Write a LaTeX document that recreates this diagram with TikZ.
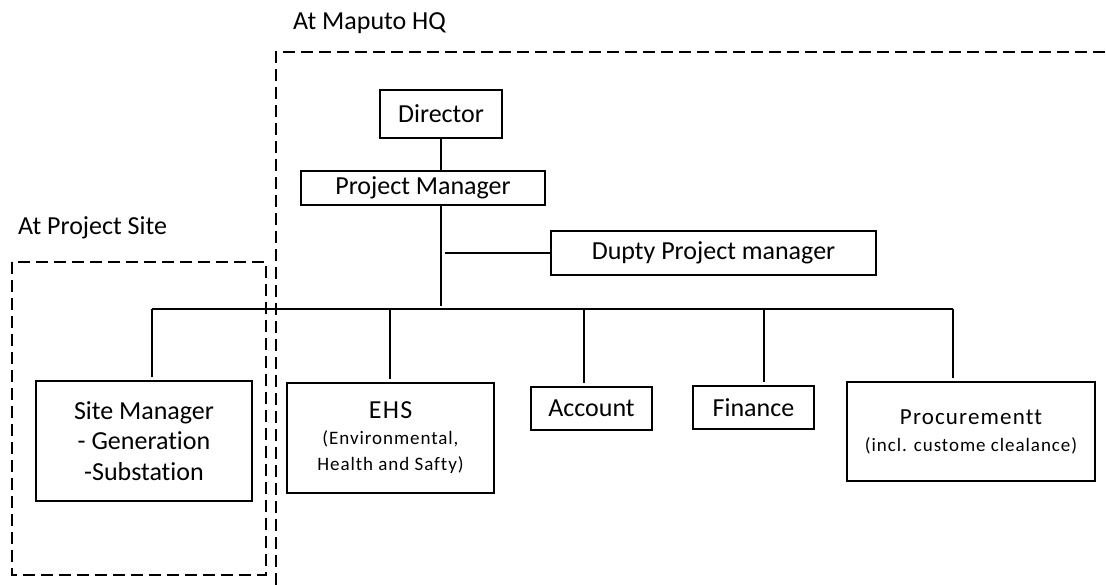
\documentclass[tikz,border=0pt]{standalone}
\usepackage{fontspec}
\setmainfont{Carlito}[Ligatures=NoCommon]
\newfontfamily\spaced[LetterSpace=5,Ligatures=NoCommon]{Carlito}
\newcommand{\smalltxt}{\spaced\fontsize{19}{26}\selectfont}
\begin{document}
\begin{tikzpicture}[x=1pt,y=-1pt,
  box/.style={draw, line width=1.5pt, inner sep=0pt, align=center,
    font=\fontsize{26}{30.5}\selectfont},
  conn/.style={line width=1.5pt},
  zone/.style={line width=1.5pt, dash pattern=on 12pt off 6pt},
  lbl/.style={anchor=base west, inner sep=0pt, font=\fontsize{26}{30}\selectfont}]
\useasboundingbox (0,0) rectangle (1106,585);

% zones
\draw[zone] (276,585) -- (276,52) -- (1106,52);
\draw[zone] (12,262) rectangle (266,575);
\node[lbl] (hqlbl) at (293,30) {At Maputo HQ};
\node[lbl] (sitelbl) at (18,235) {At Project Site};

% boxes
\node[box, minimum width=122pt, minimum height=48pt] (dir) at (441,114) {Director};
\node[box, minimum width=244pt, minimum height=34pt] (pm) at (423,188) {Project Manager};
\node[box, minimum width=325pt, minimum height=44pt] (dup) at (713.5,253) {Dupty Project manager};
\node[box, minimum width=216pt, minimum height=120pt] (sm) at (144,441) {Site Manager\\- Generation\\-Substation};
\node[box, minimum width=207pt, minimum height=110pt, font=\smalltxt] (ehs) at (390.5,438)
  {{\fontsize{26}{26}\selectfont EHS}\\(Environmental,\\Health and Safty)};
\node[box, minimum width=121pt, minimum height=43pt] (acc) at (591.5,408.5) {Account};
\node[box, minimum width=121pt, minimum height=43pt] (fin) at (753.5,407.5) {Finance};
\node[box, minimum width=248pt, minimum height=99pt, font=\spaced\fontsize{19}{27}\selectfont] (pro) at (971,431.5)
  {{\fontsize{23}{27}\selectfont Procurementt}\\(incl. custome clealance)};

% connector points
\coordinate (t) at (441,309);
\coordinate (br) at (445,253);
\coordinate (b1) at (152,309);
\coordinate (b2) at (390,309);
\coordinate (b3) at (584,309);
\coordinate (b4) at (764,309);
\coordinate (b5) at (953,309);

% connectors
\draw[conn] (dir.south) -- (dir.south |- pm.north);
\draw[conn, shorten >=3pt] (t |- pm.south) -- (t);
\draw[conn] (br) -- (dup.west);
\draw[conn] (b1) -- (b5);
\draw[conn, shorten >=3pt] (b1) -- (b1 |- sm.north);
\draw[conn, shorten >=3pt] (b2) -- (b2 |- ehs.north);
\draw[conn, shorten >=3pt] (b3) -- (b3 |- acc.north);
\draw[conn, shorten >=3pt] (b4) -- (b4 |- fin.north);
\draw[conn, shorten >=3pt] (b5) -- (b5 |- pro.north);
\end{tikzpicture}
\end{document}
